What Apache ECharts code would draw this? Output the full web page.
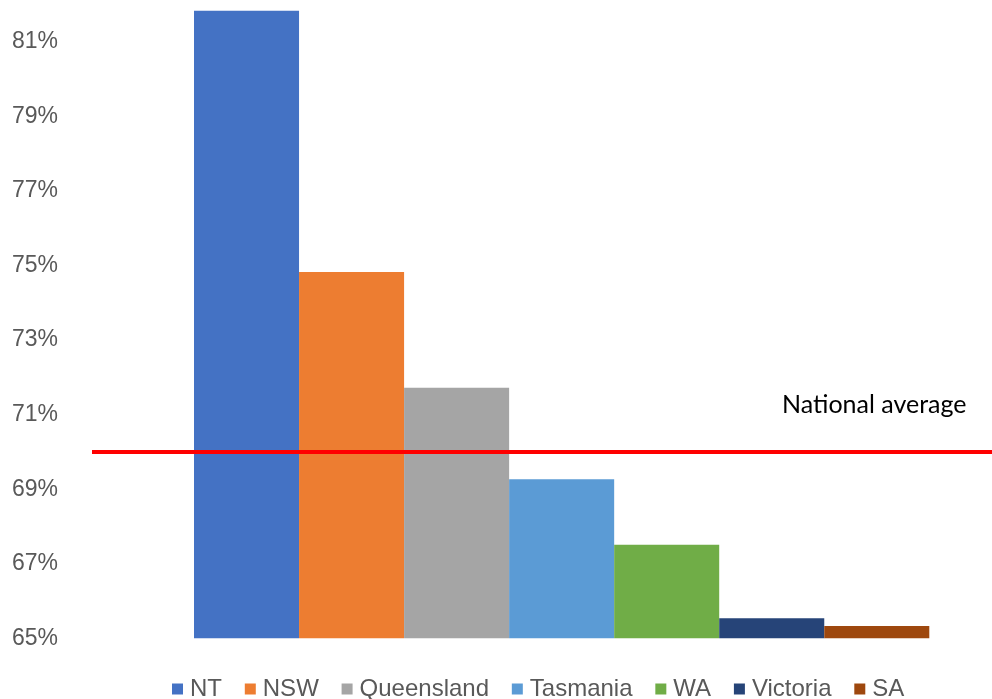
<!DOCTYPE html>
<html>
<head>
<meta charset="utf-8">
<script src="https://cdn.jsdelivr.net/npm/echarts@6/dist/echarts.min.js"></script>
<style>html,body{margin:0;padding:0;background:#fff;}#c{width:992px;height:699px;}</style>
</head>
<body>
<div id="c"></div>
<script>
var states = ['NT', 'NSW', 'Queensland', 'Tasmania', 'WA', 'Victoria', 'SA'];
var values = [81.84, 74.83, 71.72, 69.27, 67.51, 65.54, 65.33];
var colors = ['#4472C4', '#ED7D31', '#A5A5A5', '#5B9BD5', '#70AD47', '#264478', '#9E480E'];
var nationalAverage = 70.0;
var avgLabel = 'National average';
var yMin = 65, yMax = 82, yInterval = 2;

var chart = echarts.init(document.getElementById('c'), null, {renderer: 'canvas'});
var font = '"Liberation Sans", Arial, sans-serif';

var series = states.map(function (s, i) {
  return {
    name: s,
    type: 'bar',
    xAxisIndex: 0,
    yAxisIndex: 0,
    data: [values[i]],
    itemStyle: {color: colors[i]},
    barGap: '0%',
    barCategoryGap: '0%'
  };
});
series.push({
  name: avgLabel,
  type: 'line',
  xAxisIndex: 1,
  yAxisIndex: 1,
  data: [[0, nationalAverage], [1, nationalAverage]],
  symbol: 'none',
  lineStyle: {color: '#FF0000', width: 4},
  silent: true,
  z: 5
});

chart.setOption({
  animation: false,
  color: colors,
  grid: [
    {left: 194, right: 62.7, top: 4.7, bottom: 60.7},
    {left: 92, right: 0, top: 4.7, bottom: 60.7}
  ],
  xAxis: [
    {type: 'category', gridIndex: 0, data: [''], show: false},
    {type: 'value', gridIndex: 1, min: 0, max: 1, show: false}
  ],
  yAxis: [
    {
      type: 'value', gridIndex: 0, min: yMin, max: yMax, interval: yInterval,
      axisLine: {show: false}, axisTick: {show: false}, splitLine: {show: false},
      axisLabel: {
        formatter: '{value}%', color: '#595959', fontSize: 23, fontFamily: font,
        margin: 136, showMaxLabel: false
      }
    },
    {type: 'value', gridIndex: 1, min: yMin, max: yMax, show: false}
  ],
  legend: {
    data: states,
    left: 172,
    top: 677,
    padding: 0,
    itemWidth: 11,
    itemHeight: 11,
    itemGap: 22.8,
    icon: 'rect',
    textStyle: {color: '#595959', fontSize: 24, fontFamily: font, padding: [0, 0, 0, 2]}
  },
  graphic: [{
    type: 'text',
    left: 782,
    top: 392,
    style: {text: avgLabel, fontSize: 25, fontFamily: 'Lato, Carlito, sans-serif', fill: '#000'}
  }],
  series: series
});
</script>
</body>
</html>
